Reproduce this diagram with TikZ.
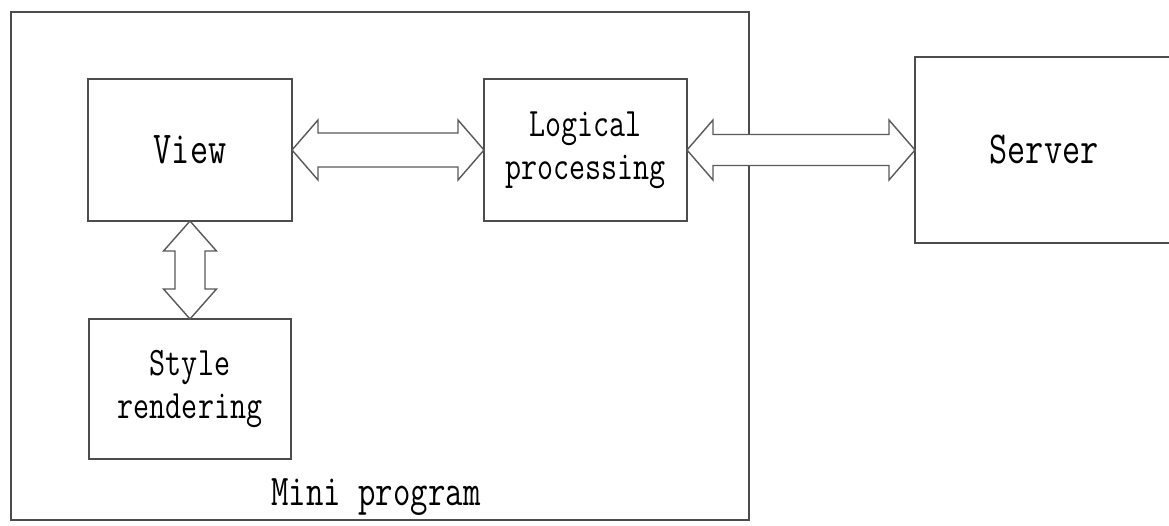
\documentclass[tikz,border=0pt]{standalone}
\usepackage{fontspec}
\usepackage{tikz}
\usetikzlibrary{
        calc,
        positioning
    }
\newfontfamily\boxfont[FakeStretch=0.77]{Latin Modern Mono}
\tikzset{
    block/.style={draw=black!70,line width=0.5pt,rectangle,outer sep=0pt,
        minimum width=2.03cm,minimum height=1.42cm,align=center,
        font=\boxfont\fontsize{13}{15}\selectfont},
    twoline/.style={font=\boxfont\fontsize{11.5}{12.2}\selectfont},
    dblarrow/.style={draw=black!65,line width=0.4pt,fill=white,line join=miter}
}
% hollow double arrows: from, to, head length, head half width, shaft half width
\newcommand{\hdblarrow}[5]{%
    \draw[dblarrow] let \p1=(#1), \p2=(#2) in
        (\x1,\y1) -- (\x1+#3,\y1+#4) -- (\x1+#3,\y1+#5) -- (\x2-#3,\y1+#5)
        -- (\x2-#3,\y1+#4) -- (\x2,\y1) -- (\x2-#3,\y1-#4) -- (\x2-#3,\y1-#5)
        -- (\x1+#3,\y1-#5) -- (\x1+#3,\y1-#4) -- cycle;}
\newcommand{\vdblarrow}[5]{%
    \draw[dblarrow] let \p1=(#1), \p2=(#2) in
        (\x1,\y1) -- (\x1+#4,\y1-#3) -- (\x1+#5,\y1-#3) -- (\x1+#5,\y2+#3)
        -- (\x1+#4,\y2+#3) -- (\x1,\y2) -- (\x1-#4,\y2+#3) -- (\x1-#5,\y2+#3)
        -- (\x1-#5,\y1-#3) -- (\x1-#4,\y1-#3) -- cycle;}

\begin{document}
\begin{tikzpicture}
    \useasboundingbox (0,0) rectangle (11.69,-5.25);
    \node[block,minimum width=7.38cm,minimum height=5.08cm] (frame) at (3.80,-2.66) {};
    \node[font=\boxfont\fontsize{12.5}{14}\selectfont,anchor=base] (framelabel) at (3.76,-5.05) {Mini program};

    \node[block,minimum width=2.04cm] (view) at (1.90,-1.50) {View};
    \node[block,twoline] (logic) [right=1.92cm of view] {Logical\\processing};
    \node[block,minimum width=2.58cm,minimum height=1.86cm] (server) [right=2.28cm of logic] {Server};
    \node[block,twoline,minimum width=2.02cm,minimum height=1.40cm] (style) [below=0.98cm of view] {Style\\rendering};

    \hdblarrow{view.east}{logic.west}{0.26cm}{0.30cm}{0.17cm}
    \hdblarrow{logic.east}{server.west}{0.26cm}{0.30cm}{0.155cm}
    \vdblarrow{view.south}{style.north}{0.30cm}{0.265cm}{0.15cm}
\end{tikzpicture}
\end{document}
